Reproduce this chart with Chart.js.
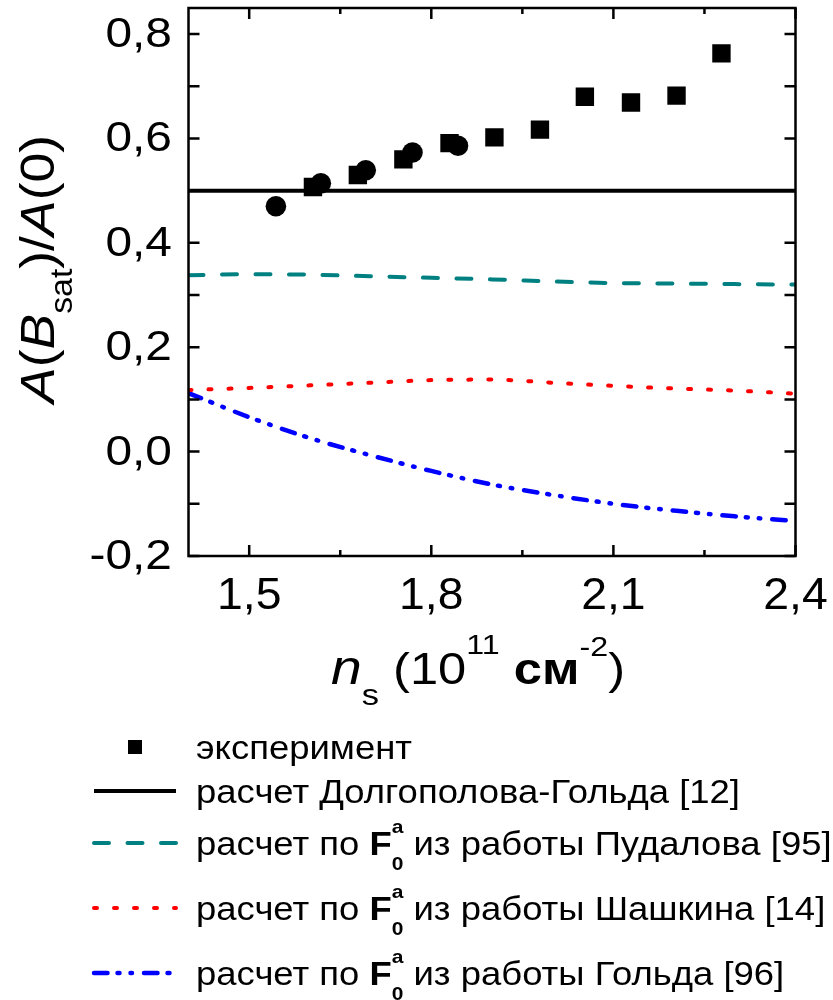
<!DOCTYPE html>
<html>
<head>
<meta charset="utf-8">
<title>A(Bsat)/A(0)</title>
<script src="https://cdn.jsdelivr.net/npm/chart.js@4.4.1/dist/chart.umd.min.js"></script>
<style>
  html, body { margin: 0; padding: 0; background: #fff; }
  canvas { display: block; }
</style>
</head>
<body>
<canvas id="chart" width="833" height="1000"></canvas>
<script>
// experiment: squares (in legend) and circles (second set, not in legend)
const squareX = [1.605, 1.679, 1.754, 1.830, 1.904, 1.979, 2.053, 2.129, 2.204, 2.278];
const squareY = [0.507, 0.530, 0.560, 0.591, 0.602, 0.617, 0.680, 0.669, 0.682, 0.763];
const circleX = [1.544, 1.618, 1.692, 1.769, 1.844];
const circleY = [0.470, 0.514, 0.539, 0.573, 0.586];

// theory curves
const dolgopolovX = [1.4, 2.4];
const dolgopolovY = [0.5, 0.5];
const theoryX = [1.4, 1.5, 1.6, 1.7, 1.8, 1.9, 2.0, 2.1, 2.2, 2.3, 2.4];
const pudalovY = [0.338, 0.340, 0.339, 0.336, 0.333, 0.330, 0.326, 0.323, 0.322, 0.321, 0.320];
const shashkinY = [0.118, 0.122, 0.127, 0.132, 0.137, 0.138, 0.132, 0.126, 0.121, 0.117, 0.111];
const goldY = [0.112, 0.066, 0.026, -0.007, -0.037, -0.063, -0.083, -0.100, -0.113, -0.124, -0.133];

const xTicks = [1.5, 1.8, 2.1, 2.4];
const xMinorTicks = [1.65, 1.95, 2.25];
const yTicks = [-0.2, 0.0, 0.2, 0.4, 0.6, 0.8];
const yMinorTicks = [-0.1, 0.1, 0.3, 0.5, 0.7];

const legendNames = ['эксперимент', 'расчет Долгополова-Гольда [12]',
  'из работы Пудалова [95]', 'из работы Шашкина [14]', 'из работы Гольда [96]'];

const FONT = '"Liberation Sans", Arial, Helvetica, sans-serif';
const font = (style, size) => (style + ' ' + size + 'px ' + FONT).trim();
const fmt = v => v.toFixed(1).replace('.', ',');
const pts = (xs, ys) => xs.map((x, i) => ({ x: x, y: ys[i] }));

// text runs with sub/superscripts, stretched horizontally by sx
function runWidth(ctx, pieces) {
  let w = 0;
  pieces.forEach(p => {
    ctx.font = p.font;
    let pw = ctx.measureText(p.text).width;
    if (p.under) {
      ctx.font = p.underFont;
      pw = Math.max(pw, ctx.measureText(p.under).width);
    }
    w += pw;
  });
  return w;
}

function drawRun(ctx, pieces, x, y, sx, rotate) {
  ctx.save();
  ctx.translate(x, y);
  if (rotate) ctx.rotate(-Math.PI / 2);
  ctx.scale(sx, 1);
  ctx.textAlign = 'left';
  ctx.textBaseline = 'alphabetic';
  ctx.fillStyle = '#000';
  let cx = 0;
  pieces.forEach(p => {
    ctx.font = p.font;
    ctx.fillText(p.text, cx, p.dy || 0);
    let pw = ctx.measureText(p.text).width;
    if (p.under) {
      ctx.font = p.underFont;
      ctx.fillText(p.under, cx, p.underDy);
      pw = Math.max(pw, ctx.measureText(p.under).width);
    }
    cx += pw;
  });
  ctx.restore();
}

const framePlugin = {
  id: 'frame',
  afterDraw(chart) {
    const { ctx, chartArea: a, scales: { x, y } } = chart;
    ctx.save();
    ctx.strokeStyle = '#000';
    ctx.lineWidth = 2.5;
    ctx.setLineDash([]);
    ctx.strokeRect(a.left, a.top, a.right - a.left, a.bottom - a.top);

    ctx.beginPath();
    const xTick = (v, len) => {
      const px = x.getPixelForValue(v);
      ctx.moveTo(px, a.bottom); ctx.lineTo(px, a.bottom - len);
      ctx.moveTo(px, a.top); ctx.lineTo(px, a.top + len);
    };
    const yTick = (v, len) => {
      const py = y.getPixelForValue(v);
      ctx.moveTo(a.left, py); ctx.lineTo(a.left + len, py);
      ctx.moveTo(a.right, py); ctx.lineTo(a.right - len, py);
    };
    xTicks.forEach(v => xTick(v, 11));
    xMinorTicks.forEach(v => xTick(v, 6));
    yTicks.forEach(v => yTick(v, 11));
    yMinorTicks.forEach(v => yTick(v, 11));
    ctx.stroke();

    // tick labels
    ctx.fillStyle = '#000';
    ctx.textBaseline = 'alphabetic';
    ctx.font = font('', 42);
    ctx.textAlign = 'right';
    yTicks.forEach(v => {
      ctx.save();
      ctx.translate(a.left - 16.5, y.getPixelForValue(v) + 13);
      ctx.scale(1.14, 1);
      ctx.fillText(fmt(v), 0, 0);
      ctx.restore();
    });
    ctx.font = font('', 45);
    ctx.textAlign = 'center';
    xTicks.forEach(v => {
      ctx.save();
      ctx.translate(x.getPixelForValue(v), a.bottom + 53);
      ctx.scale(1.03, 1);
      ctx.fillText(fmt(v), 0, 0);
      ctx.restore();
    });

    // axis titles
    const xTitle = [
      { text: 'n', font: font('italic', 48) },
      { text: 's', font: font('', 30), dy: 21 },
      { text: ' (10', font: font('', 44) },
      { text: '11', font: font('', 28), dy: -30 },
      { text: ' ', font: font('', 44) },
      { text: 'см', font: font('bold', 44) },
      { text: '-2', font: font('', 28), dy: -28 },
      { text: ')', font: font('', 44) }
    ];
    drawRun(ctx, xTitle, 331, 684, 294 / runWidth(ctx, xTitle));

    const yTitle = [
      { text: 'A', font: font('italic', 49) },
      { text: '(', font: font('', 49) },
      { text: 'B', font: font('italic', 49) },
      { text: 'sat', font: font('', 31), dy: 18 },
      { text: ')/', font: font('', 49) },
      { text: 'A', font: font('italic', 49) },
      { text: '(0)', font: font('', 49) }
    ];
    drawRun(ctx, yTitle, 54, 403, 268 / runWidth(ctx, yTitle), true);

    // legend
    const rowY = [747, 791, 843, 908, 973];
    const dsIndex = [1, 2, 3, 4, 5];
    const size = 33;
    const rows = legendNames.map((name, i) => {
      if (i < 2) return [{ text: name, font: font('', size) }];
      return [
        { text: 'расчет по ', font: font('', size) },
        { text: 'F', font: font('bold', size) },
        { text: 'a', font: font('bold', 19), dy: -22, under: '0', underFont: font('bold', 19), underDy: 15 },
        { text: ' ' + name, font: font('', size) }
      ];
    });
    const lsx = 544 / runWidth(ctx, rows[1]);
    rows.forEach((row, i) => {
      const ds = chart.data.datasets[dsIndex[i]];
      const yy = rowY[i];
      ctx.save();
      if (ds.showLine) {
        ctx.strokeStyle = ds.borderColor;
        ctx.lineWidth = ds.borderWidth;
        ctx.lineCap = ds.borderCapStyle || 'butt';
        ctx.setLineDash(ds.borderDash || []);
        ctx.beginPath();
        ctx.moveTo(94, yy);
        ctx.lineTo(176, yy);
        ctx.stroke();
      } else {
        ctx.fillStyle = ds.backgroundColor;
        ctx.fillRect(128, yy - 7, 14, 14);
      }
      ctx.restore();
      drawRun(ctx, row, 196, yy + 12, lsx);
    });
    ctx.restore();
  }
};

new Chart(document.getElementById('chart'), {
  type: 'scatter',
  data: {
    datasets: [
      {
        label: 'эксперимент (2)',
        data: pts(circleX, circleY),
        pointStyle: 'circle',
        pointRadius: 10.3,
        backgroundColor: '#000',
        borderWidth: 0,
        order: 0
      },
      {
        label: legendNames[0],
        data: pts(squareX, squareY),
        pointStyle: 'rect',
        pointRadius: 13,
        backgroundColor: '#000',
        borderWidth: 0,
        order: 1
      },
      {
        label: legendNames[1],
        data: pts(dolgopolovX, dolgopolovY),
        showLine: true,
        borderColor: '#000',
        borderWidth: 4,
        pointRadius: 0,
        order: 2
      },
      {
        label: legendNames[2],
        data: pts(theoryX, pudalovY),
        showLine: true,
        borderColor: '#008080',
        borderWidth: 4,
        borderDash: [15, 18.5],
        borderCapStyle: 'round',
        cubicInterpolationMode: 'monotone',
        pointRadius: 0,
        order: 3
      },
      {
        label: legendNames[3],
        data: pts(theoryX, shashkinY),
        showLine: true,
        borderColor: '#ff0000',
        borderWidth: 4,
        borderDash: [3, 17],
        borderCapStyle: 'round',
        cubicInterpolationMode: 'monotone',
        pointRadius: 0,
        order: 4
      },
      {
        label: legendNames[4],
        data: pts(theoryX, goldY),
        showLine: true,
        borderColor: '#0000ff',
        borderWidth: 4.5,
        borderDash: [13.5, 10, 2, 11, 1.5, 12],
        borderCapStyle: 'round',
        cubicInterpolationMode: 'monotone',
        pointRadius: 0,
        order: 5
      }
    ]
  },
  options: {
    responsive: false,
    animation: false,
    layout: { autoPadding: false, padding: { left: 0, top: 8, right: 37.5, bottom: 0 } },
    plugins: { legend: { display: false }, tooltip: { enabled: false } },
    scales: {
      x: {
        type: 'linear', min: 1.4, max: 2.4,
        ticks: { display: false },
        grid: { display: false },
        border: { display: false },
        afterFit: s => { s.height = 444; }
      },
      y: {
        type: 'linear', min: -0.2, max: 0.85,
        ticks: { display: false },
        grid: { display: false },
        border: { display: false },
        afterFit: s => { s.width = 188.5; }
      }
    }
  },
  plugins: [framePlugin]
});
</script>
</body>
</html>
